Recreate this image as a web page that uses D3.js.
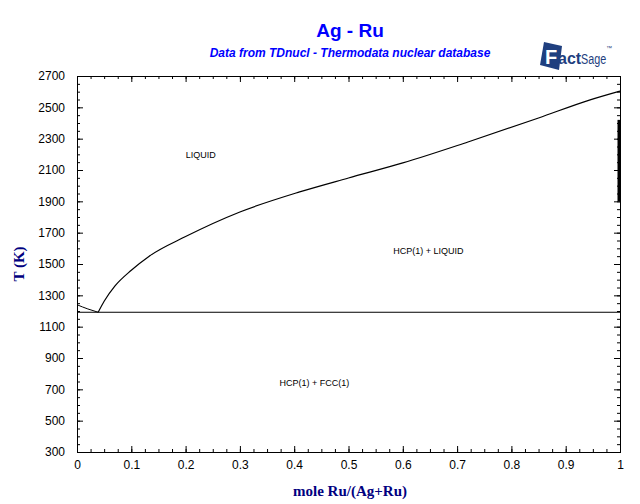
<!DOCTYPE html>
<html><head><meta charset="utf-8">
<script src="https://cdn.jsdelivr.net/npm/d3@7"></script>
<style>body{margin:0;background:#fff}svg{display:block}</style>
</head><body>
<script>
// ---- data ----
const xMajorTicks = [0,0.1,0.2,0.3,0.4,0.5,0.6,0.7,0.8,0.9,1];
const yMajorTicks = [300,500,700,900,1100,1300,1500,1700,1900,2100,2300,2500,2700];
const liquidusX = [0.039,0.05,0.07,0.1,0.133,0.2,0.3,0.41,0.5,0.6,0.72,0.85,0.945,1.0];
const liquidusT = [1192,1262,1360,1460,1550,1675,1832,1960,2049,2145,2279,2432,2548,2604];
const agSideX = [0,0.02,0.039];
const agSideT = [1240,1213,1192];
const eutecticX = [0,1];
const eutecticT = [1192,1192];
const ruEdgeX = [1,1];
const ruEdgeT = [1900,2420];
const regionLabels = ["LIQUID","HCP(1) + LIQUID","HCP(1) + FCC(1)"];
const regionX = [0.228,0.647,0.437];
const regionT = [2196,1585,740];

const W=640,H=504;
const svg=d3.select("body").append("svg").attr("width",W).attr("height",H);
const x=d3.scaleLinear().domain([0,1]).range([77,620]);
const y=d3.scaleLinear().domain([300,2700]).range([452,76]);

const xMinor=d3.range(0,1.0001,0.025).map(v=>+v.toFixed(3));
const yMinor=d3.range(300,2701,50);

function styleAxis(g){g.select(".domain").attr("stroke","#000");g.selectAll(".tick line").attr("stroke","#000");
  g.selectAll("text").attr("font-family","'Liberation Sans',Arial,sans-serif").attr("font-size","12px").attr("fill","#000");}

// minor ticks
svg.append("g").attr("transform",`translate(0,${y(300)})`).call(d3.axisBottom(x).tickValues(xMinor).tickFormat("").tickSize(-3)).call(styleAxis);
svg.append("g").attr("transform",`translate(0,${y(2700)})`).call(d3.axisTop(x).tickValues(xMinor).tickFormat("").tickSize(-3)).call(styleAxis);
svg.append("g").attr("transform",`translate(${x(0)},0)`).call(d3.axisLeft(y).tickValues(yMinor).tickFormat("").tickSize(-3)).call(styleAxis);
svg.append("g").attr("transform",`translate(${x(1)},0)`).call(d3.axisRight(y).tickValues(yMinor).tickFormat("").tickSize(-3)).call(styleAxis);
// major ticks
svg.append("g").attr("transform",`translate(0,${y(300)})`).call(d3.axisBottom(x).tickValues(xMajorTicks).tickFormat(d3.format("")).tickSize(-6).tickPadding(8)).call(styleAxis);
svg.append("g").attr("transform",`translate(0,${y(2700)})`).call(d3.axisTop(x).tickValues(xMajorTicks).tickFormat("").tickSize(-6)).call(styleAxis);
svg.append("g").attr("transform",`translate(${x(0)},0)`).call(d3.axisLeft(y).tickValues(yMajorTicks).tickFormat(d3.format("d")).tickSize(-6).tickPadding(12)).call(styleAxis);
svg.append("g").attr("transform",`translate(${x(1)},0)`).call(d3.axisRight(y).tickValues(yMajorTicks).tickFormat("").tickSize(-6)).call(styleAxis);

// lines
const line=d3.line().x(d=>x(d[0])).y(d=>y(d[1])).curve(d3.curveMonotoneX);
function draw(xs,ts,w){svg.append("path").datum(xs.map((v,i)=>[v,ts[i]])).attr("d",line).attr("fill","none").attr("stroke","#000").attr("stroke-width",w);}
draw(liquidusX,liquidusT,1.2);
draw(agSideX,agSideT,1);
draw(eutecticX,eutecticT,1);
const vline=d3.line().x(d=>x(d[0])).y(d=>y(d[1]));
svg.append("path").datum(ruEdgeX.map((v,i)=>[v,ruEdgeT[i]])).attr("d",vline).attr("stroke","#000").attr("stroke-width",3).attr("transform","translate(-1,0)");

// region labels
svg.selectAll(".rl").data(regionLabels).enter().append("text")
 .attr("x",(d,i)=>x(regionX[i])).attr("y",(d,i)=>y(regionT[i])).attr("dy","0.35em")
 .attr("text-anchor","middle").attr("font-family","'Liberation Sans',Arial,sans-serif").attr("font-size","9px").attr("fill","#000").text(d=>d);

// titles
svg.append("text").attr("x",350).attr("y",37).attr("text-anchor","middle").attr("font-family","'Liberation Sans',Arial,sans-serif")
 .attr("font-weight","bold").attr("font-size","19px").attr("fill","#0000ff").text("Ag - Ru");
svg.append("text").attr("x",350).attr("y",57).attr("text-anchor","middle").attr("font-family","'Liberation Sans',Arial,sans-serif")
 .attr("font-weight","bold").attr("font-style","italic").attr("font-size","12px").attr("fill","#0000ff").text("Data from TDnucl - Thermodata nuclear database");
svg.append("text").attr("x",350).attr("y",496).attr("text-anchor","middle").attr("font-family","'Liberation Serif','Times New Roman',serif")
 .attr("font-weight","bold").attr("font-size","15px").attr("fill","#000080").text("mole Ru/(Ag+Ru)");
svg.append("text").attr("transform","translate(24,264) rotate(-90)").attr("text-anchor","middle").attr("font-family","'Liberation Serif','Times New Roman',serif")
 .attr("font-weight","bold").attr("font-size","15px").attr("fill","#000080").text("T (K)");

// logo
const logo=svg.append("g").attr("transform","translate(540,40)");
logo.append("path").attr("d","M4,2 L22,6 L19,30 L0,25 Z").attr("fill","#1f3f7f");
logo.append("text").attr("x",5).attr("y",24).attr("font-family","'Liberation Sans',Arial,sans-serif").attr("font-weight","bold").attr("font-size","20px").attr("fill","#fff").text("F");
logo.append("text").attr("transform","translate(18,24)").attr("font-family","'Liberation Sans',Arial,sans-serif").attr("font-weight","bold").attr("font-size","16px").attr("fill","#1f3f7f").text("act");
logo.append("text").attr("transform","translate(41,24) scale(0.72,1)").attr("font-family","'Liberation Sans',Arial,sans-serif").attr("font-size","15px").attr("fill","#1f3f7f").text("Sage");
logo.append("text").attr("x",66).attr("y",10).attr("font-family","'Liberation Sans',Arial,sans-serif").attr("font-size","6px").attr("fill","#1f3f7f").text("™");
</script>
</body></html>
